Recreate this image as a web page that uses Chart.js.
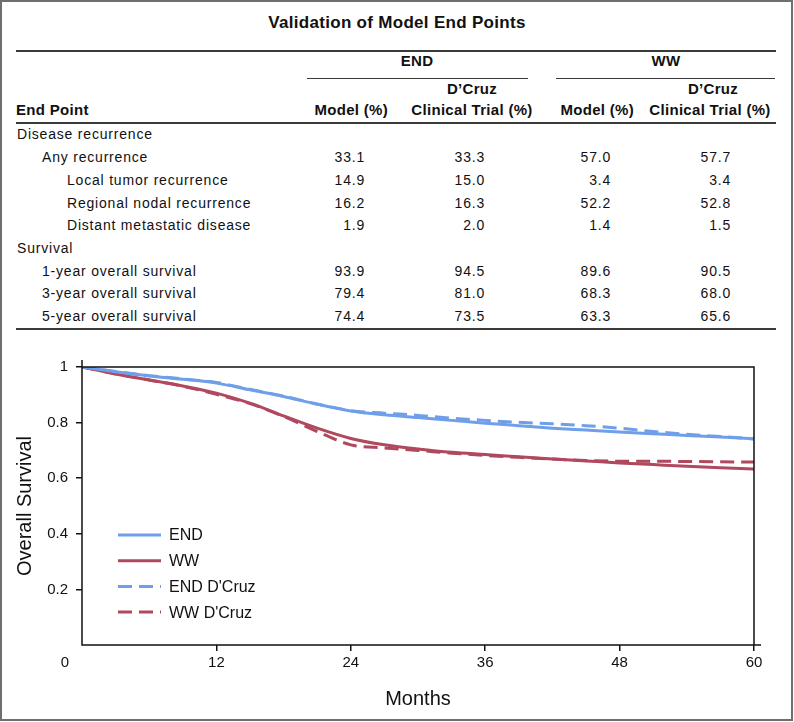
<!DOCTYPE html>
<html>
<head>
<meta charset="utf-8">
<script src="https://cdn.jsdelivr.net/npm/chart.js@4/dist/chart.umd.min.js"></script>
<style>
  body { margin:0; background:#fff; font-family:"Liberation Sans", Arial, sans-serif; color:#111; }
  #frame { position:absolute; left:0; top:0; width:789px; height:717px; border:2px solid #6f6f6f; }
  .t { position:absolute; white-space:nowrap; line-height:1; }
  .hl { position:absolute; background:#3a3a3a; }
  #chart-wrap { position:absolute; left:0; top:340px; width:792px; height:378px; }
</style>
</head>
<body>
<div id="frame"></div>
<div id="table"></div>
<div id="chart-wrap"><canvas id="chart-os"></canvas></div>
<script>
// table data
const tableTitle = "Validation of Model End Points";
const groupNames = ["END", "WW"];
const rowLabels = ["Disease recurrence", "Any recurrence", "Local tumor recurrence", "Regional nodal recurrence",
  "Distant metastatic disease", "Survival", "1-year overall survival", "3-year overall survival", "5-year overall survival"];
const rowLevel = [0, 1, 2, 2, 2, 0, 1, 1, 1];
const endModel = [null, "33.1", "14.9", "16.2", "1.9", null, "93.9", "79.4", "74.4"];
const endDcruz = [null, "33.3", "15.0", "16.3", "2.0", null, "94.5", "81.0", "73.5"];
const wwModel  = [null, "57.0", "3.4", "52.2", "1.4", null, "89.6", "68.3", "63.3"];
const wwDcruz  = [null, "57.7", "3.4", "52.8", "1.5", null, "90.5", "68.0", "65.6"];

// curve data (overall survival vs months)
const months = [0, 3, 6, 9, 12, 15, 18, 21, 24, 27, 30, 33, 36, 39, 42, 45, 48, 51, 54, 57, 60];
const endModelOS = [1.0, 0.983, 0.968, 0.956, 0.942, 0.918, 0.894, 0.866, 0.842, 0.828, 0.818, 0.808, 0.798, 0.789, 0.780, 0.773, 0.766, 0.760, 0.754, 0.748, 0.742];
const wwModelOS  = [1.0, 0.975, 0.953, 0.932, 0.906, 0.870, 0.824, 0.780, 0.743, 0.720, 0.705, 0.693, 0.685, 0.677, 0.669, 0.662, 0.655, 0.649, 0.643, 0.638, 0.633];
const endDcruzOS = [1.0, 0.984, 0.969, 0.957, 0.944, 0.920, 0.895, 0.867, 0.843, 0.834, 0.826, 0.816, 0.808, 0.801, 0.796, 0.789, 0.780, 0.768, 0.758, 0.750, 0.741];
const wwDcruzOS  = [1.0, 0.975, 0.953, 0.931, 0.902, 0.868, 0.822, 0.768, 0.720, 0.709, 0.700, 0.690, 0.682, 0.675, 0.669, 0.664, 0.661, 0.661, 0.660, 0.659, 0.658];
const seriesNames = ["END", "WW", "END D'Cruz", "WW D'Cruz"];

const BLUE = "#6f9fe9", RED = "#b0485e";

// --- table ---
const tbl = document.getElementById("table");
function put(text, x, base, size, o = {}) {
  const d = document.createElement("div");
  d.className = "t";
  d.textContent = text;
  d.style.fontSize = size + "px";
  d.style.left = x + "px";
  d.style.top = (base - 0.85 * size) + "px";
  if (o.bold) d.style.fontWeight = "bold";
  if (o.ls) d.style.letterSpacing = o.ls + "px";
  if (o.align === "right") d.style.transform = "translateX(-100%)";
  if (o.align === "center") d.style.transform = "translateX(-50%)";
  tbl.appendChild(d);
}
function rule(x1, x2, y, h) {
  const d = document.createElement("div");
  d.className = "hl";
  Object.assign(d.style, { left: x1 + "px", width: (x2 - x1) + "px", top: y + "px", height: h + "px" });
  tbl.appendChild(d);
}

put(tableTitle, 397, 28, 17, { bold: true, align: "center", ls: 0.3 });
rule(16, 776, 50, 2);
put(groupNames[0], 417, 66, 15, { bold: true, align: "center", ls: 0.3 });
put(groupNames[1], 666, 66, 15, { bold: true, align: "center", ls: 0.3 });
rule(307, 528, 77.5, 1.5);
rule(556, 775, 77.5, 1.5);
put("End Point", 16, 115, 15, { bold: true, ls: 0.3 });
put("Model (%)", 388, 115, 15, { bold: true, align: "right", ls: 0.3 });
put("D\u2019Cruz", 472, 94, 15, { bold: true, align: "center", ls: 0.3 });
put("Clinical Trial (%)", 472, 115, 15, { bold: true, align: "center", ls: 0.3 });
put("Model (%)", 634, 115, 15, { bold: true, align: "right", ls: 0.3 });
put("D\u2019Cruz", 713, 94, 15, { bold: true, align: "center", ls: 0.3 });
put("Clinical Trial (%)", 710, 115, 15, { bold: true, align: "center", ls: 0.3 });
rule(16, 776, 121.5, 2);

const colRight = [365, 485, 611, 731];
const cols = [endModel, endDcruz, wwModel, wwDcruz];
rowLabels.forEach((lab, i) => {
  const base = 139.3 + i * 22.7;
  put(lab, 17 + rowLevel[i] * 25, base, 14, { ls: 0.8 });
  cols.forEach((c, j) => { if (c[i] !== null) put(c[i], colRight[j], base, 14, { align: "right", ls: 0.8 }); });
});
rule(16, 776, 327.5, 2);

// --- chart ---
const pts = vals => months.map((m, i) => ({ x: m, y: vals[i] }));

const frameLegend = {
  id: "frameLegend",
  afterDraw(chart) {
    const { ctx, chartArea: a } = chart;
    ctx.save();
    ctx.strokeStyle = "#111";
    ctx.lineWidth = 1.5;
    ctx.beginPath();
    ctx.moveTo(a.left, a.top - 7); ctx.lineTo(a.left, a.bottom); ctx.lineTo(a.right + 7, a.bottom);
    ctx.moveTo(a.left, a.top); ctx.lineTo(a.right, a.top); ctx.lineTo(a.right, a.bottom);
    ctx.stroke();
    ctx.fillStyle = "#111";
    ctx.font = "15px 'Liberation Sans', Arial, sans-serif";
    ctx.textAlign = "center"; ctx.textBaseline = "middle";
    ctx.fillText("0", a.left - 17, a.bottom + 18);
    // legend inside plot
    ctx.font = "16px 'Liberation Sans', Arial, sans-serif";
    ctx.textAlign = "left";
    chart.data.datasets.forEach((ds, i) => {
      const y = a.top + 168 + i * 25.7;
      ctx.strokeStyle = ds.borderColor;
      ctx.lineWidth = 3;
      ctx.setLineDash(ds.borderDash || []);
      ctx.beginPath(); ctx.moveTo(a.left + 36, y); ctx.lineTo(a.left + 79, y); ctx.stroke();
      ctx.setLineDash([]);
      ctx.fillStyle = "#111";
      ctx.fillText(ds.label, a.left + 87, y + 1);
    });
    ctx.restore();
  }
};

const tickGrid = {
  drawOnChartArea: false, tickLength: 6, lineWidth: 1.5,
  color: c => (c.tick && c.tick.value === 0) ? "rgba(0,0,0,0)" : "#111"
};

new Chart(document.getElementById("chart-os"), {
  type: "line",
  data: {
    datasets: [
      { label: seriesNames[0], data: pts(endModelOS), borderColor: BLUE },
      { label: seriesNames[1], data: pts(wwModelOS), borderColor: RED },
      { label: seriesNames[2], data: pts(endDcruzOS), borderColor: BLUE, borderDash: [14, 7] },
      { label: seriesNames[3], data: pts(wwDcruzOS), borderColor: RED, borderDash: [14, 7] }
    ].map(d => Object.assign(d, { borderWidth: 3, pointRadius: 0, fill: false, cubicInterpolationMode: "monotone" }))
  },
  options: {
    responsive: true, maintainAspectRatio: false, animation: false,
    layout: { padding: { left: 0, top: 27, right: 38, bottom: 3 } },
    plugins: { legend: { display: false }, tooltip: { enabled: false } },
    scales: {
      x: {
        type: "linear", min: 0, max: 60,
        ticks: { stepSize: 12, padding: 3, color: "#111", font: { size: 15 }, maxRotation: 0,
          callback: v => v === 0 ? "" : v },
        grid: tickGrid, border: { display: false },
        title: { display: true, text: "Months", color: "#111", font: { size: 20 }, padding: { top: 0, bottom: 4 } },
        afterFit: s => { s.height = 70; }
      },
      y: {
        min: 0, max: 1,
        ticks: { stepSize: 0.2, padding: 8, color: "#111", font: { size: 15 },
          callback: v => v === 0 ? "" : String(Math.round(v * 10) / 10) },
        grid: tickGrid, border: { display: false },
        title: { display: true, text: "Overall Survival", color: "#111", font: { size: 20 }, padding: { top: 13, bottom: 0 } },
        afterFit: s => { s.width = 82; }
      }
    }
  },
  plugins: [frameLegend]
});
</script>
</body>
</html>
